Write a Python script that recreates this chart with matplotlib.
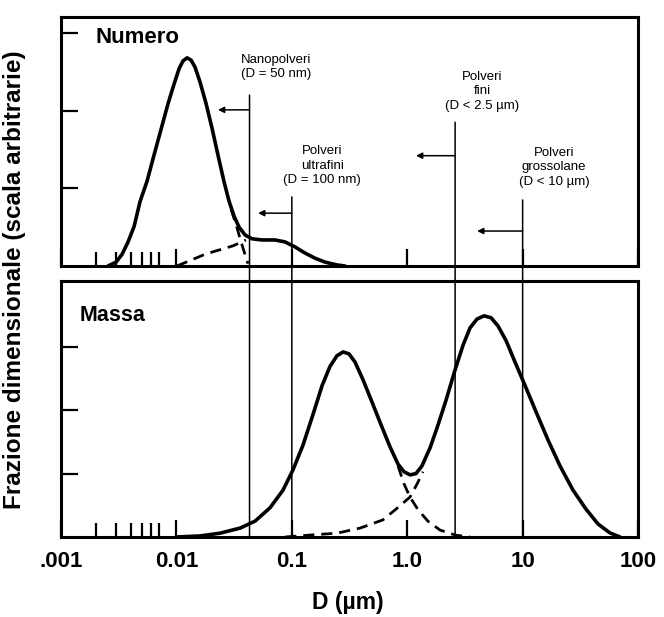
import matplotlib.pyplot as plt
from matplotlib.patches import ConnectionPatch

plt.rcParams['font.family'] = ['Liberation Sans', 'DejaVu Sans']

# ---- Numero (top panel) ----
num_D = [0.00255, 0.0030, 0.00338, 0.00381, 0.0043, 0.00484, 0.00556, 0.0064, 0.00736, 0.00846,
         0.00953, 0.01054, 0.0114, 0.01236, 0.0134, 0.0145, 0.0160, 0.0180, 0.0203, 0.0229,
         0.0258, 0.0285, 0.0316, 0.0349, 0.0393, 0.0452, 0.0552, 0.0715, 0.0873, 0.1066,
         0.130, 0.159, 0.194, 0.247, 0.289]
num_y = [0.00, 0.05, 0.15, 0.31, 0.51, 0.83, 1.09, 1.43, 1.76, 2.09,
         2.34, 2.54, 2.64, 2.68, 2.65, 2.56, 2.37, 2.10, 1.78, 1.43,
         1.09, 0.84, 0.64, 0.50, 0.40, 0.35, 0.335, 0.335, 0.31, 0.245,
         0.167, 0.10, 0.05, 0.013, 0.00]
num_main_tail_D = [0.0297, 0.0328, 0.0355, 0.0385, 0.0417]
num_main_tail_y = [0.73, 0.54, 0.36, 0.19, 0.03]
num_second_D = [0.0101, 0.0180, 0.0310, 0.0400]
num_second_y = [0.00, 0.155, 0.26, 0.335]

# ---- Massa (bottom panel) ----
mass_D = [0.0100, 0.0160, 0.0239, 0.0356, 0.0480, 0.0647, 0.0839, 0.1024, 0.125, 0.153,
          0.183, 0.214, 0.246, 0.278, 0.313, 0.353, 0.414, 0.495, 0.593, 0.710,
          0.832, 0.937, 1.057, 1.19, 1.34, 1.58, 1.85, 2.17, 2.60, 3.05,
          3.50, 4.03, 4.63, 5.33, 6.12, 7.18, 8.59, 10.5, 13.1, 16.6,
          21.1, 27.3, 35.4, 45.0, 57.2, 69.8]
mass_y = [0.00, 0.016, 0.06, 0.14, 0.25, 0.46, 0.74, 1.06, 1.45, 1.94,
          2.39, 2.69, 2.86, 2.92, 2.89, 2.76, 2.48, 2.13, 1.77, 1.42,
          1.15, 1.03, 0.98, 1.00, 1.12, 1.41, 1.77, 2.16, 2.64, 3.03,
          3.30, 3.44, 3.49, 3.46, 3.33, 3.10, 2.76, 2.39, 1.97, 1.53,
          1.12, 0.74, 0.44, 0.205, 0.063, 0.00]
mass_fine_tail_D = [0.832, 0.937, 1.057, 1.24, 1.51, 1.92, 2.60, 3.50]
mass_fine_tail_y = [1.12, 0.84, 0.63, 0.43, 0.25, 0.11, 0.03, 0.00]
mass_coarse_head_D = [0.0877, 0.144, 0.246, 0.390, 0.616, 0.800, 1.057, 1.22, 1.37]
mass_coarse_head_y = [0.00, 0.03, 0.06, 0.14, 0.27, 0.44, 0.63, 0.84, 1.03]

# ---- size cut lines and labels ----
cut_D = [0.043, 0.1, 2.6, 10]
cut_top = [2.20, 0.89, 1.85, 0.85]
arrow_left_D = [0.0229, 0.051, 1.19, 4.03]
arrow_y = [2.01, 0.68, 1.42, 0.45]
cut_labels = ['Nanopolveri\n(D = 50 nm)',
              'Polveri\nultrafini\n(D = 100 nm)',
              'Polveri\nfini\n(D < 2.5 µm)',
              'Polveri\ngrossolane\n(D < 10 µm)']
label_D = [0.073, 0.183, 4.45, 18.7]
label_y = [2.56, 1.29, 2.25, 1.27]

tick_vals = [0.001, 0.01, 0.1, 1, 10, 100]
tick_text = ['.001', '0.01', '0.1', '1.0', '10', '100']
minor_vals = [0.002, 0.003, 0.004, 0.005, 0.006, 0.007]

fig = plt.figure(figsize=(6.64, 6.17), dpi=100)
ax1 = fig.add_axes([0.0919, 0.5689, 0.869, 0.4036])
ax2 = fig.add_axes([0.0919, 0.1297, 0.869, 0.4149])

for ax, ytop in [(ax1, 3.206), (ax2, 4.04)]:
    ax.set_xscale('log')
    ax.set_xlim(0.001, 100)
    ax.set_ylim(0, ytop)
    ax.set_yticks([1, 2, 3])
    ax.set_yticklabels([])
    ax.set_xticks(tick_vals)
    ax.set_xticks(minor_vals, minor=True)
    ax.tick_params(axis='both', which='major', direction='in', length=12, width=1.6)
    ax.tick_params(axis='x', which='minor', direction='in', length=10, width=1.6, labelbottom=False)
    ax.tick_params(axis='x', which='major', pad=10)
    for s in ax.spines.values():
        s.set_linewidth(2.2)

ax1.set_xticklabels([])
ax2.set_xticklabels(tick_text, fontsize=16, fontweight='bold')

dash = (0, (4, 2.5))
# curves
ax1.plot(num_D, num_y, color='black', lw=2.6, solid_capstyle='round', solid_joinstyle='round')
ax1.plot(num_main_tail_D, num_main_tail_y, color='black', lw=2, ls=dash)
ax1.plot(num_second_D, num_second_y, color='black', lw=2, ls=dash)

ax2.plot(mass_D, mass_y, color='black', lw=2.6, solid_capstyle='round', solid_joinstyle='round')
ax2.plot(mass_fine_tail_D, mass_fine_tail_y, color='black', lw=2, ls=dash)
ax2.plot(mass_coarse_head_D, mass_coarse_head_y, color='black', lw=2, ls=dash)

# cut lines running through both panels
for d, top, ad, ay, txt, lx, ly in zip(cut_D, cut_top, arrow_left_D, arrow_y,
                                        cut_labels, label_D, label_y):
    con = ConnectionPatch(xyA=(d, top), coordsA='data', axesA=ax1,
                          xyB=(d, 0), coordsB='data', axesB=ax2,
                          color='black', lw=1.1)
    fig.add_artist(con)
    ax1.annotate('', xy=(ad, ay), xytext=(d, ay),
                 arrowprops=dict(arrowstyle='-|>', lw=1.1, color='black',
                                 mutation_scale=9, shrinkA=0, shrinkB=0))
    ax1.text(lx, ly, txt, fontsize=9.5, ha='center', va='center', linespacing=1.3)

ax1.text(0.00197, 2.94, 'Numero', fontsize=16, fontweight='bold', va='center', ha='left')
ax2.text(0.00146, 3.49, 'Massa', fontsize=15.5, fontweight='bold', va='center', ha='left')

fig.text(0.022, 0.546, 'Frazione dimensionale (scala arbitrarie)', rotation=90,
         fontsize=17.5, fontweight='bold', ha='center', va='center')
fig.text(0.524, 0.023, 'D (µm)', fontsize=16.5, fontweight='bold', ha='center', va='center')

plt.savefig('out.png', dpi=100)
